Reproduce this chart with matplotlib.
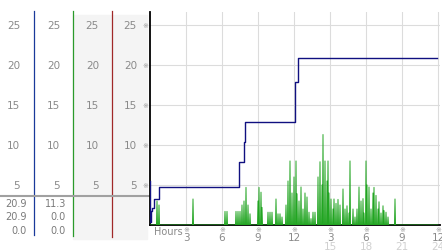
import numpy as np
import matplotlib
matplotlib.use("Agg")
import matplotlib.pyplot as plt
from matplotlib import transforms
from matplotlib.patches import Rectangle

# gust: step line (hours, mph)
gust_hours = [0, 0.04, 0.1, 0.2, 0.3, 0.72, 7.45, 7.83, 7.92, 12.08, 12.33, 23.92]
gust_values = [5.5, 0.4, 1.7, 2.1, 3.2, 4.7, 7.9, 10.4, 12.9, 17.9, 20.8, 20.8]

# wind: non-zero samples (hours, mph), zero everywhere else
wind_hours = [0.58, 0.75, 3.58, 6.25, 6.42, 7.17, 7.33, 7.5, 7.67, 7.83, 8.0, 8.17,
              8.33, 9.0, 9.08, 9.25, 9.33, 9.83, 10.0, 10.17, 10.5, 10.67, 10.83, 11.0,
              11.33, 11.5, 11.67, 11.83, 12.0, 12.17, 12.25, 12.42, 12.58, 12.75, 12.92,
              13.08, 13.25, 13.42, 13.58, 13.75, 14.0, 14.17, 14.33, 14.42, 14.58, 14.75,
              14.83, 14.92, 15.08, 15.25, 15.33, 15.5, 15.67, 15.83, 16.08, 16.25, 16.42,
              16.58, 16.67, 16.92, 17.08, 17.25, 17.42, 17.58, 17.75, 17.83, 18.0, 18.08,
              18.25, 18.42, 18.58, 18.67, 18.83, 19.0, 19.08, 19.25, 19.42, 19.5, 19.67,
              19.83, 20.42]
wind_values = [3.0, 2.5, 3.25, 1.7, 1.7, 1.7, 1.7, 1.7, 2.5, 3.0, 4.7, 2.5,
               1.4, 3.0, 4.7, 4.1, 2.2, 1.6, 1.6, 1.6, 3.25, 1.4, 1.4, 1.0,
               2.5, 5.5, 8.0, 4.0, 6.0, 8.0, 3.9, 3.0, 4.75, 2.0, 4.0,
               3.5, 1.6, 0.8, 1.6, 1.6, 6.0, 7.9, 5.0, 11.3, 8.0, 5.5,
               8.0, 4.0, 3.25, 2.0, 3.25, 2.7, 3.2, 2.5, 4.5, 2.0, 2.4,
               1.5, 8.0, 2.0, 1.0, 2.0, 4.75, 3.0, 3.3, 1.5, 8.0, 5.0,
               4.75, 2.0, 4.0, 4.7, 3.7, 2.0, 2.9, 1.5, 2.4, 1.8, 1.6,
               1.0, 3.25]

y_ticks = [5, 10, 15, 20, 25]
x_ticks = [3, 6, 9, 12, 15, 18, 21, 24]
x_labels = ["3", "6", "9", "12", "3", "6", "9", "12"]
x_labels2 = {15: "15", 18: "18", 21: "21", 24: "24"}

col1_values = ["20.9", "20.9", "0.0"]
col2_values = ["11.3", "0.0", "0.0"]

GUST_C = "#101080"
WIND_C = "#22a522"
LBL_C = "#8a8a8a"
W, H = 442, 253

fig = plt.figure(figsize=(W / 100, H / 100), dpi=100)
fig.patch.set_facecolor("white")

bg = fig.add_axes([0, 0, 1, 1], zorder=0)
bg.set_xlim(0, W)
bg.set_ylim(H, 0)
bg.axis("off")

ax = fig.add_axes([150 / W, (H - 226) / H, 290 / W, 213 / H], zorder=1)
ax.set_xlim(0, 24 * 290 / 288)
ax.set_ylim(0, 26.6)
ax.set_facecolor("white")
for s in ["top", "right"]:
    ax.spines[s].set_visible(False)
ax.spines["left"].set_linewidth(1.3)
ax.spines["bottom"].set_linewidth(1.3)
ax.set_xticks(x_ticks)
ax.set_yticks(y_ticks)
ax.tick_params(length=0, labelbottom=False, labelleft=False)
ax.grid(True, color="#dcdcdc", linewidth=0.8)
ax.set_axisbelow(True)

# wind series on a fine time grid, zero between the read samples
t = np.arange(0, 24 * 24 + 1) / 24
wind = np.zeros_like(t)
wind[np.round(np.array(wind_hours) * 24).astype(int)] = wind_values
ax.plot(t, wind, color=WIND_C, linewidth=0.7, zorder=3)
ax.plot(gust_hours, gust_values, color=GUST_C, linewidth=1.0,
        drawstyle="steps-post", zorder=4)

# left panel
yb = transforms.blended_transform_factory(bg.transData, ax.transData)
bg.add_patch(Rectangle((73, 16), 38, 224, color="#f4f4f4", zorder=0))
bg.add_patch(Rectangle((112, 16), 35, 224, color="#f4f4f4", zorder=0))
bg.plot([33.5, 33.5], [12, 236], color="#1a3a9a", linewidth=0.9)
bg.plot([72.5, 72.5], [12, 237], color="#2a9a2a", linewidth=0.9)
bg.plot([111.5, 111.5], [12, 238], color="#a02828", linewidth=0.9)
bg.plot([0, 150], [197, 197], color="#a0a0a0", linewidth=1.5)

for v in y_ticks:
    for xr in [20, 60, 99, 137]:
        bg.text(xr, v, str(v), transform=yb, ha="right", va="center",
                fontsize=7.5, color=LBL_C)
    bg.text(145, v, "※", transform=yb, ha="center", va="center",
            fontsize=5, color="#999999")

for i, (a, b) in enumerate(zip(col1_values, col2_values)):
    yy = 204 + i * 13.5
    bg.text(27, yy, a, ha="right", va="center", fontsize=7, color="#7a7a7a")
    bg.text(66, yy, b, ha="right", va="center", fontsize=7, color="#7a7a7a")

# x tick labels
xb = transforms.blended_transform_factory(ax.transData, bg.transData)
for x, lab in zip(x_ticks, x_labels):
    bg.text(x, 230.5, "※", transform=xb, ha="center", va="center",
            fontsize=5, color="#999999")
    bg.text(x, 238.5, lab, transform=xb, ha="center", va="center",
            fontsize=7.5, color=LBL_C)
    if x in x_labels2:
        bg.text(x, 247, x_labels2[x], transform=xb, ha="center", va="center",
                fontsize=7.5, color="#d0d0d0")
bg.text(154, 232, "Hours", ha="left", va="center", fontsize=7, color=LBL_C)

# legend
bg.plot([161], [20], "o", markersize=4, color="#b0b0b0", markeredgecolor="#909090")
bg.text(165, 20, "Gust 05/19/09", ha="left", va="center", fontsize=7, color=GUST_C)
bg.plot([302], [20], "o", markersize=4, color="#b0b0b0", markeredgecolor="#909090")
bg.text(306, 20, "Wind 05/19/09", ha="left", va="center", fontsize=7, color="#2a9a2a")

fig.savefig("out.png", dpi=100)
